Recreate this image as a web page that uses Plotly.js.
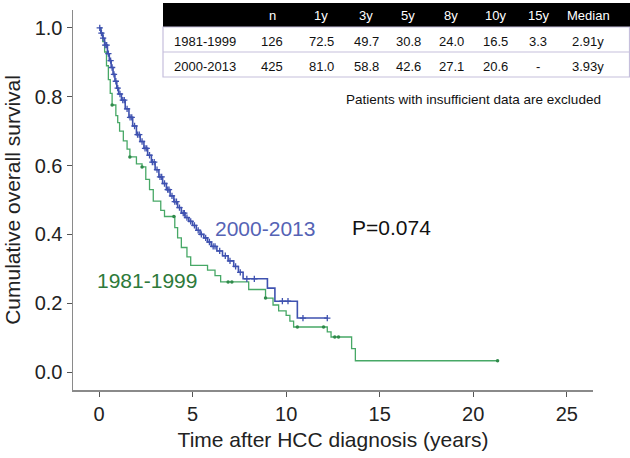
<!DOCTYPE html>
<html>
<head>
<meta charset="utf-8">
<script src="https://cdn.plot.ly/plotly-3.0.1.min.js"></script>
<style>
  html, body { margin: 0; padding: 0; background: #fff; }
  #chart { width: 630px; height: 458px; }
</style>
</head>
<body>
<div id="chart"></div>
<script>
// Kaplan-Meier steps (time in years, survival fraction)
const blueTimes = [0, 0.1, 0.2, 0.3, 0.45, 0.55, 0.65, 0.75, 0.85, 0.95, 1.05, 1.2, 1.4, 1.6, 1.8, 2.0, 2.2, 2.4, 2.6, 2.8, 3.0, 3.2, 3.4, 3.6, 3.8, 4.0, 4.2, 4.4, 4.6, 4.8, 5.0, 5.2, 5.4, 5.6, 5.8, 6.0, 6.3, 6.6, 6.9, 7.2, 7.45, 7.7, 9.0, 9.4, 10.6, 12.2];
const blueSurv = [1.0, 0.985, 0.97, 0.95, 0.925, 0.905, 0.885, 0.865, 0.845, 0.825, 0.808, 0.79, 0.765, 0.74, 0.715, 0.69, 0.67, 0.65, 0.63, 0.61, 0.588, 0.567, 0.548, 0.53, 0.512, 0.495, 0.478, 0.462, 0.449, 0.438, 0.426, 0.412, 0.4, 0.39, 0.378, 0.365, 0.352, 0.338, 0.323, 0.307, 0.29, 0.271, 0.244, 0.206, 0.157, 0.157];
const blueCensor = [0.04, 0.13, 0.22, 0.33, 0.41, 0.5, 0.62, 0.7, 0.8, 0.9, 1.0, 1.12, 1.27, 1.35, 1.5, 1.66, 1.75, 1.9, 2.06, 2.15, 2.3, 2.46, 2.55, 2.7, 2.85, 2.95, 3.1, 3.26, 3.35, 3.5, 3.67, 3.74, 3.9, 4.05, 4.14, 4.3, 4.5, 4.56, 4.7, 4.9, 5.1, 5.3, 5.47, 5.7, 5.9, 6.1, 6.2, 6.45, 6.75, 7.0, 7.3, 7.55, 7.9, 8.3, 9.8, 10.1, 10.9, 12.2];

const greenTimes = [0, 0.1, 0.2, 0.3, 0.4, 0.5, 0.6, 0.7, 0.9, 1.0, 1.1, 1.3, 1.5, 1.65, 2.0, 2.3, 2.5, 2.7, 2.9, 3.3, 3.5, 4.05, 4.2, 4.4, 4.7, 4.9, 5.8, 6.2, 6.5, 8.0, 8.9, 9.3, 9.6, 10.0, 10.2, 10.4, 12.2, 12.4, 13.5, 13.7, 21.3];
const greenSurv = [1.0, 0.985, 0.96, 0.93, 0.89, 0.85, 0.81, 0.776, 0.745, 0.725, 0.70, 0.672, 0.648, 0.625, 0.605, 0.596, 0.56, 0.53, 0.497, 0.47, 0.452, 0.42, 0.39, 0.362, 0.335, 0.31, 0.296, 0.28, 0.262, 0.24, 0.215, 0.195, 0.178, 0.165, 0.148, 0.131, 0.117, 0.102, 0.068, 0.033, 0.033];
const greenCensor = [0.7, 1.65, 2.3, 4.0, 6.9, 7.1, 8.9, 10.6, 12.0, 12.6, 12.8, 21.3];

// Table contents
const tableHeader = ['', 'n', '1y', '3y', '5y', '8y', '10y', '15y', 'Median'];
const groups = ['1981-1999', '2000-2013'];
const nPatients = ['126', '425'];
const surv1y = ['72.5', '81.0'];
const surv3y = ['49.7', '58.8'];
const surv5y = ['30.8', '42.6'];
const surv8y = ['24.0', '27.1'];
const surv10y = ['16.5', '20.6'];
const surv15y = ['3.3', '-'];
const medians = ['2.91y', '3.93y'];

const W = 630, H = 458;
const FONT = 'Liberation Sans, Arial, Helvetica, sans-serif';
const px = x => x / W;
const py = y => 1 - y / H;

function survAt(times, surv, t) {
    let s = surv[0];
    for (let i = 0; i < times.length; i++) {
        if (times[i] <= t) s = surv[i];
    }
    return s;
}

const blueCol = '#3f52b0';
const greenCol = '#47a866';

const traces = [
    {
        x: greenTimes, y: greenSurv, mode: 'lines', line: { shape: 'hv', color: greenCol, width: 1.3 },
        hoverinfo: 'skip', showlegend: false
    },
    {
        x: greenCensor, y: greenCensor.map(t => survAt(greenTimes, greenSurv, t)), mode: 'markers',
        marker: { symbol: 'circle', size: 3.5, color: '#2f8a4a' }, showlegend: false
    },
    {
        x: blueTimes, y: blueSurv, mode: 'lines', line: { shape: 'hv', color: blueCol, width: 1.6 },
        hoverinfo: 'skip', showlegend: false
    },
    {
        x: blueCensor, y: blueCensor.map(t => survAt(blueTimes, blueSurv, t)), mode: 'markers',
        marker: { symbol: 'cross-thin', size: 4.5, line: { color: blueCol, width: 1.3 } }, showlegend: false
    }
];

// table drawn with shapes + annotations (pixel positions of the reference)
const colX = [205, 272, 321, 366, 408, 451, 495, 538, 588];
const rowY = [41, 66];
const shapes = [
    { type: 'rect', xref: 'paper', yref: 'paper', x0: px(163), x1: px(630), y0: py(3), y1: py(27),
      fillcolor: '#000', line: { width: 0 } },
    { type: 'rect', xref: 'paper', yref: 'paper', x0: px(163), x1: px(629.5), y0: py(27), y1: py(77),
      fillcolor: 'rgba(0,0,0,0)', line: { color: '#c6bfdc', width: 1.2 } },
    { type: 'line', xref: 'paper', yref: 'paper', x0: px(163), x1: px(630), y0: py(52), y1: py(52),
      line: { color: '#c6bfdc', width: 1.2 } }
];

const annotations = [];
tableHeader.forEach((h, i) => {
    if (!h) return;
    annotations.push({ xref: 'paper', yref: 'paper', x: px(colX[i]), y: py(15), text: h, showarrow: false,
        xanchor: 'center', yanchor: 'middle', font: { family: FONT, size: 13, color: '#fff' } });
});
groups.forEach((g, r) => {
    const row = [g, nPatients[r], surv1y[r], surv3y[r], surv5y[r], surv8y[r], surv10y[r], surv15y[r], medians[r]];
    row.forEach((v, i) => {
        annotations.push({ xref: 'paper', yref: 'paper', x: px(colX[i]), y: py(rowY[r]), text: v, showarrow: false,
            xanchor: 'center', yanchor: 'middle', font: { family: FONT, size: 13, color: '#111' } });
    });
});
annotations.push(
    { xref: 'paper', yref: 'paper', x: px(473), y: py(99), text: 'Patients with insufficient data are excluded',
      showarrow: false, xanchor: 'center', yanchor: 'middle', font: { family: FONT, size: 13.5, color: '#111' } },
    { xref: 'paper', yref: 'paper', x: px(265), y: py(228), text: '2000-2013', showarrow: false,
      xanchor: 'center', yanchor: 'middle', font: { family: FONT, size: 21, color: '#5563b5' } },
    { xref: 'paper', yref: 'paper', x: px(391), y: py(227), text: 'P=0.074', showarrow: false,
      xanchor: 'center', yanchor: 'middle', font: { family: FONT, size: 21, color: '#111' } },
    { xref: 'paper', yref: 'paper', x: px(147), y: py(280), text: '1981-1999', showarrow: false,
      xanchor: 'center', yanchor: 'middle', font: { family: FONT, size: 21, color: '#2e7a3a' } }
);

const layout = {
    width: W, height: H,
    margin: { l: 0, r: 0, t: 0, b: 0 },
    paper_bgcolor: '#fff', plot_bgcolor: '#fff',
    font: { family: FONT, color: '#222' },
    showlegend: false,
    xaxis: {
        domain: [73 / W, 593 / W], range: [-1.39, 26.4],
        tickvals: [0, 5, 10, 15, 20, 25], ticks: 'outside', ticklen: 5, tickcolor: '#555', tickwidth: 1,
        showline: true, linecolor: '#8a8a8a', linewidth: 1.5, showgrid: false, zeroline: false,
        tickfont: { family: FONT, size: 20, color: '#222' },
        title: { text: 'Time after HCC diagnosis (years)', font: { family: FONT, size: 21, color: '#222' }, standoff: 9 }
    },
    yaxis: {
        domain: [68 / H, 448 / H], range: [-0.052, 1.052],
        tickvals: [0, 0.2, 0.4, 0.6, 0.8, 1.0], tickformat: '.1f', ticks: 'outside', ticklen: 5, tickcolor: '#555', tickwidth: 1,
        showline: true, linecolor: '#8a8a8a', linewidth: 1.5, showgrid: false, zeroline: false,
        tickfont: { family: FONT, size: 20, color: '#222' },
        title: { text: 'Cumulative overall survival', font: { family: FONT, size: 21, color: '#222' }, standoff: 8 }
    },
    shapes: shapes,
    annotations: annotations
};

Plotly.newPlot('chart', traces, layout, { displayModeBar: false, staticPlot: true });
</script>
</body>
</html>
